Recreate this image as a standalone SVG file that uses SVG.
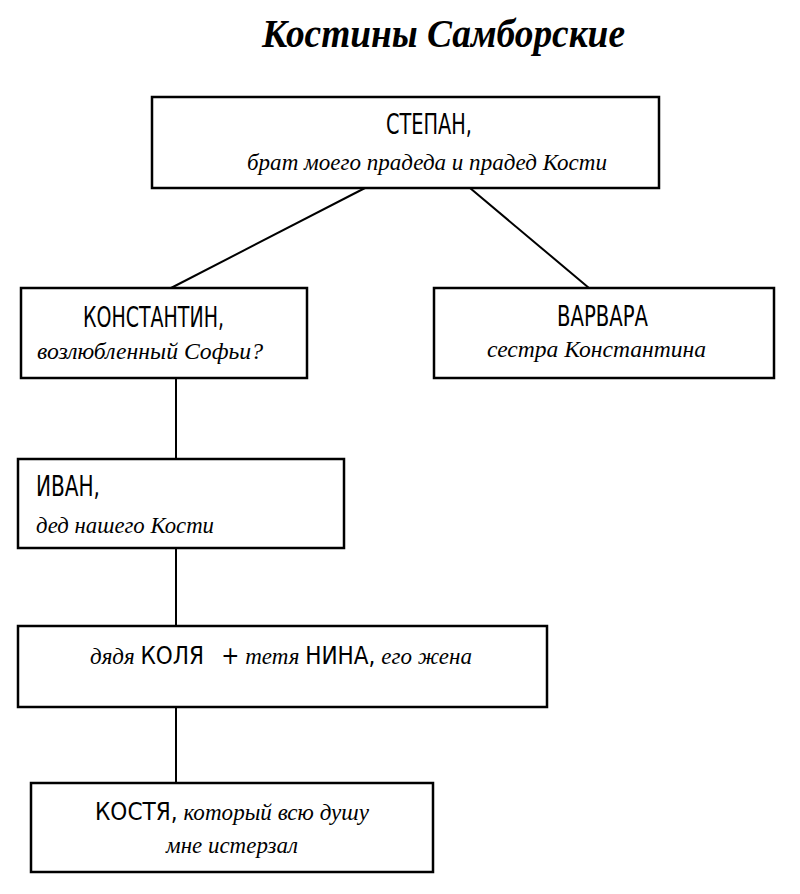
<svg xmlns="http://www.w3.org/2000/svg" width="800" height="894" viewBox="0 0 800 894">
<style>
.box{fill:#fff;stroke:#000;stroke-width:2.5}
.ln{stroke:#000;stroke-width:2;fill:none}
.cap{font-family:"DejaVu Sans Condensed","Liberation Sans Narrow","Liberation Sans",sans-serif;font-style:normal;font-size:28px;fill:#000}
.capm{font-size:25px}
.scr{font-family:"Liberation Serif","DejaVu Serif",serif;font-style:italic;font-size:24px;fill:#000}
.title{font-family:"Liberation Serif","DejaVu Serif",serif;font-style:italic;font-weight:bold;font-size:40px;fill:#000}
.pre{white-space:pre}
</style>
<rect width="800" height="894" fill="#fff"/>
<text class="title" x="262" y="47" textLength="363" lengthAdjust="spacingAndGlyphs">Костины Самборские</text>
<g id="connectors">
<line class="ln" x1="365" y1="188" x2="171" y2="288"/>
<line class="ln" x1="470" y1="188" x2="589" y2="288"/>
<line class="ln" x1="176" y1="378" x2="176" y2="459"/>
<line class="ln" x1="176" y1="548" x2="176" y2="626"/>
<line class="ln" x1="176" y1="707" x2="176" y2="783"/>
</g>
<g id="stepan">
<rect class="box" x="152" y="97" width="507" height="91"/>
<text class="cap" x="386" y="134" textLength="86" lengthAdjust="spacingAndGlyphs">СТЕПАН,</text>
<text class="scr" x="247" y="170" textLength="360" lengthAdjust="spacingAndGlyphs">брат моего прадеда и прадед Кости</text>
</g>
<g id="konstantin">
<rect class="box" x="21" y="288" width="286" height="90"/>
<text class="cap" x="83" y="327" textLength="141" lengthAdjust="spacingAndGlyphs">КОНСТАНТИН,</text>
<text class="scr" x="37" y="359" textLength="226" lengthAdjust="spacingAndGlyphs">возлюбленный Софьи?</text>
</g>
<g id="varvara">
<rect class="box" x="434" y="288" width="340" height="90"/>
<text class="cap" x="557" y="326" textLength="91" lengthAdjust="spacingAndGlyphs">ВАРВАРА</text>
<text class="scr" x="487" y="357" textLength="219" lengthAdjust="spacingAndGlyphs">сестра Константина</text>
</g>
<g id="ivan">
<rect class="box" x="18" y="459" width="326" height="89"/>
<text class="cap" x="36" y="496" textLength="64" lengthAdjust="spacingAndGlyphs">ИВАН,</text>
<text class="scr" x="36" y="533" textLength="178" lengthAdjust="spacingAndGlyphs">дед нашего Кости</text>
</g>
<g id="kolya">
<rect class="box" x="18" y="626" width="529" height="81"/>
<text class="scr pre" x="90" y="664" textLength="382" lengthAdjust="spacingAndGlyphs">дядя <tspan class="cap capm">КОЛЯ</tspan>   <tspan class="cap capm">+</tspan> тетя <tspan class="cap capm">НИНА,</tspan> его жена</text>
</g>
<g id="kostya">
<rect class="box" x="31" y="783" width="402" height="89"/>
<text class="scr" x="95" y="820" textLength="274" lengthAdjust="spacingAndGlyphs"><tspan class="cap capm">КОСТЯ,</tspan> который всю душу</text>
<text class="scr" x="166" y="853" textLength="132" lengthAdjust="spacingAndGlyphs">мне истерзал</text>
</g>
</svg>
